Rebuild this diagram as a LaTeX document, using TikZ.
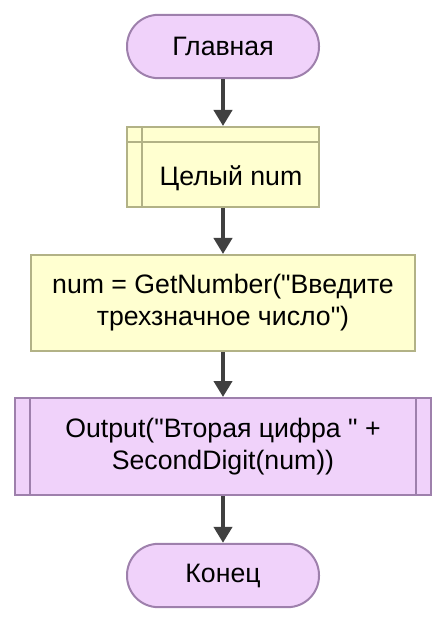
\documentclass[tikz,border=0pt]{standalone}
\usepackage{fontspec}
\setmainfont{Liberation Sans}
\usepackage{tikz}
\usetikzlibrary{positioning,arrows.meta,calc}
\definecolor{termfill}{HTML}{F0D2FA}
\definecolor{termdraw}{HTML}{9E80AC}
\definecolor{procfill}{HTML}{FFFFD0}
\definecolor{procdraw}{HTML}{B2B286}
\definecolor{flowcolor}{HTML}{404040}

\begin{document}
\begin{tikzpicture}[
    x=0.75pt, y=-0.75pt,
    base/.style={draw, line width=1.5pt, inner sep=0pt, align=center,
      font=\fontsize{20}{24}\selectfont},
    term/.style={base, fill=termfill, draw=termdraw, rounded corners=23.5pt,
      minimum width=144pt, minimum height=47.5pt},
    decl/.style={base, fill=procfill, draw=procdraw,
      minimum width=144pt, minimum height=60pt},
    proc/.style={base, fill=procfill, draw=procdraw,
      minimum width=288pt, minimum height=72pt},
    outbox/.style={base, fill=termfill, draw=termdraw,
      minimum width=312pt, minimum height=72.75pt},
    flow/.style={-{Triangle[width=13.5pt,length=12pt]}, line width=3pt, draw=flowcolor},
  ]
  \useasboundingbox (0,0) rectangle (447,623);
  \node[term] (start) at (223,46.5) {Главная};
  \node[decl] (var) at (223,167) {};
  \node[font=\fontsize{20}{24}\selectfont] (vartext) at (231,178) {Целый num};
  \draw[procdraw, line width=1.5pt] ($(var.north west)+(0,16)$) -- ($(var.north east)+(0,16)$);
  \draw[procdraw, line width=1.5pt] ($(var.north west)+(16,0)$) -- ($(var.south west)+(16,0)$);
  \node[proc] (input) at (223,303)
    {num = GetNumber(\textquotedbl Введите\\трехзначное число\textquotedbl)};
  \node[outbox] (output) at (223,446.5)
    {Output(\textquotedbl Вторая цифра \textquotedbl{} +\\SecondDigit(num))};
  \draw[termdraw, line width=1.5pt] ($(output.north west)+(16,0)$) -- ($(output.south west)+(16,0)$);
  \draw[termdraw, line width=1.5pt] ($(output.north east)+(-16,0)$) -- ($(output.south east)+(-16,0)$);
  \node[term] (stop) at (223,575.5) {Конец};
  \draw[flow] (start) -- (var);
  \draw[flow] (var) -- (input);
  \draw[flow] (input) -- (output);
  \draw[flow] (output) -- (stop);
\end{tikzpicture}
\end{document}
